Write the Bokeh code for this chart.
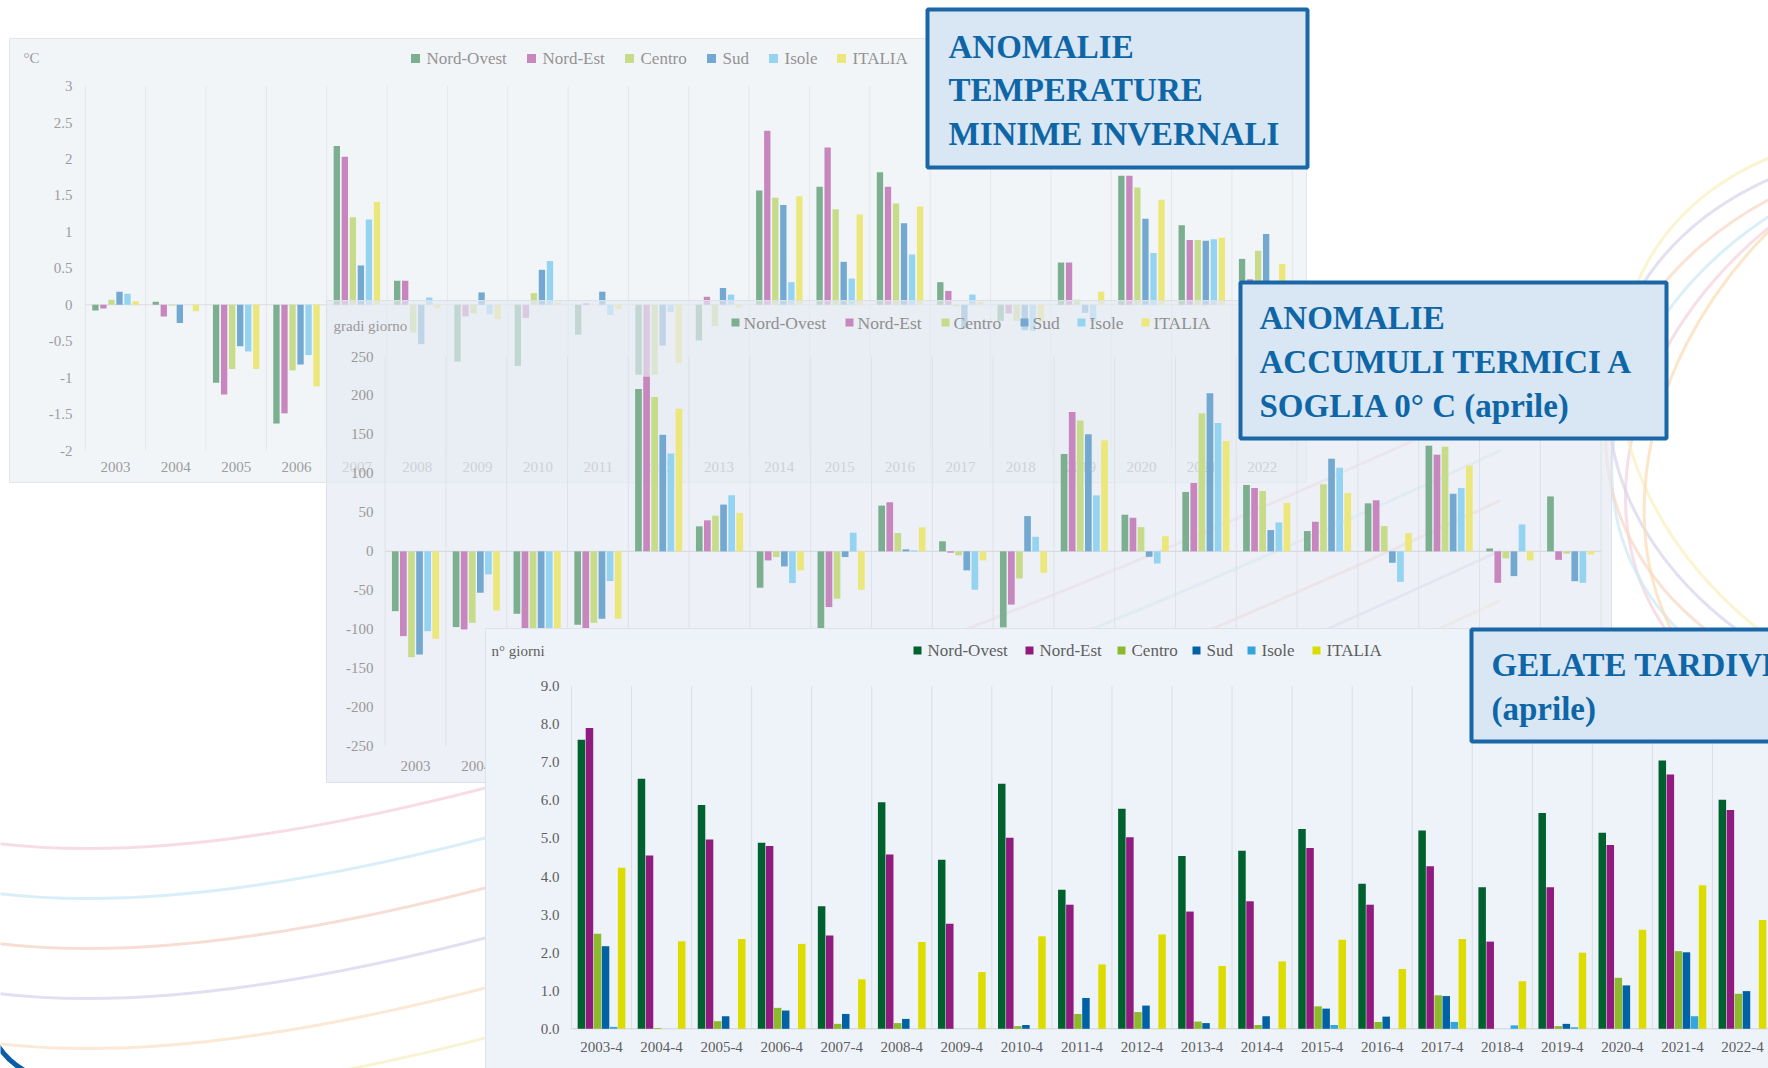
from bokeh.plotting import figure
from bokeh.models import Range1d, ColumnDataSource
from bokeh.transform import dodge
from bokeh.core.properties import value
from bokeh.embed import file_html
from bokeh.resources import INLINE

# ------------------------------------------------------------------ data
years = ["2003", "2004", "2005", "2006", "2007", "2008", "2009", "2010", "2011", "2012",
         "2013", "2014", "2015", "2016", "2017", "2018", "2019", "2020", "2021", "2022"]
regions = ["Nord-Ovest", "Nord-Est", "Centro", "Sud", "Isole", "ITALIA"]

# Anomalie temperature minime invernali (°C)
tmin_nord_ovest = [-0.08, 0.04, -1.07, -1.63, 2.18, 0.33, -0.78, -0.84, -0.41, -0.96,
                   -0.49, 1.57, 1.62, 1.82, 0.31, -0.22, 0.58, 1.77, 1.09, 0.63]
tmin_nord_est = [-0.05, -0.16, -1.23, -1.49, 2.03, 0.33, -0.16, -0.18, 0.02, -1.02,
                 0.11, 2.39, 2.16, 1.62, 0.19, -0.12, 0.58, 1.77, 0.89, 0.35]
tmin_centro = [0.07, -0.01, -0.88, -0.90, 1.20, -0.38, -0.12, 0.16, 0.00, -0.96,
               -0.29, 1.47, 1.31, 1.39, -0.02, -0.22, 0.07, 1.61, 0.89, 0.74]
tmin_sud = [0.18, -0.25, -0.57, -0.82, 0.54, -0.54, 0.17, 0.48, 0.18, -0.56,
            0.23, 1.37, 0.59, 1.12, -0.32, -0.35, -0.11, 1.18, 0.88, 0.97]
tmin_isole = [0.15, 0.00, -0.64, -0.69, 1.17, 0.10, -0.13, 0.60, -0.14, -0.10,
              0.14, 0.31, 0.36, 0.69, 0.14, -0.36, -0.23, 0.71, 0.90, 0.25]
tmin_italia = [0.05, -0.09, -0.88, -1.12, 1.41, -0.05, -0.20, 0.03, -0.06, -0.80,
               -0.04, 1.49, 1.24, 1.35, 0.04, -0.23, 0.18, 1.44, 0.92, 0.56]
tmin_ticks = [3, 2.5, 2, 1.5, 1, 0.5, 0, -0.5, -1, -1.5, -2]
tmin_tick_labels = ["3", "2.5", "2", "1.5", "1", "0.5", "0", "-0.5", "-1", "-1.5", "-2"]

# Anomalie accumuli termici a soglia 0 °C, aprile (gradi giorno)
gdd_nord_ovest = [-76.7, -97.2, -80.1, -94.2, 208.2, 32.1, -46.7, -112.0, 58.7, 12.9,
                  -97.5, 124.9, 47.0, 76.2, 85.2, 26.0, 61.6, 135.6, 3.7, 70.5]
gdd_nord_est = [-108.8, -100.2, -115.0, -98.5, 224.0, 39.8, -11.6, -71.5, 63.0, -1.7,
                -68.3, 178.9, 43.1, 87.7, 81.3, 38.0, 65.5, 124.0, -40.4, -10.9]
gdd_centro = [-135.8, -91.7, -110.0, -91.7, 197.9, 45.8, -7.3, -60.8, 23.6, -5.1,
              -34.9, 167.8, 31.1, 177.2, 77.4, 86.0, 32.4, 134.3, -9.1, -3.0]
gdd_sud = [-132.4, -53.1, -118.0, -86.5, 149.5, 60.0, -19.3, -7.3, 2.6, -24.4,
           45.3, 150.2, -7.0, 202.9, 27.3, 118.9, -14.7, 73.9, -31.8, -38.3]
gdd_isole = [-102.4, -29.6, -125.0, -38.1, 125.5, 72.0, -40.7, 24.0, 1.3, -49.3,
             18.7, 71.8, -15.6, 164.8, 37.1, 107.3, -39.1, 81.2, 34.5, -40.4]
gdd_italia = [-112.2, -75.8, -108.0, -86.5, 182.9, 49.3, -24.4, -49.3, 30.8, -11.6,
              -27.6, 142.5, 19.5, 141.6, 62.0, 74.8, 23.4, 109.9, -11.7, -4.0]
gdd_ticks = [250, 200, 150, 100, 50, 0, -50, -100, -150, -200, -250]
gdd_tick_labels = ["250", "200", "150", "100", "50", "0", "-50", "-100", "-150", "-200", "-250"]

# Gelate tardive, aprile (n° giorni)
gel_categories = ["2003-4", "2004-4", "2005-4", "2006-4", "2007-4", "2008-4", "2009-4",
                  "2010-4", "2011-4", "2012-4", "2013-4", "2014-4", "2015-4", "2016-4",
                  "2017-4", "2018-4", "2019-4", "2020-4", "2021-4", "2022-4"]
gel_nord_ovest = [7.59, 6.57, 5.88, 4.89, 3.22, 5.95, 4.44, 6.44, 3.65, 5.78,
                  4.54, 4.68, 5.25, 3.81, 5.21, 3.72, 5.67, 5.15, 7.05, 6.02]
gel_nord_est = [7.90, 4.55, 4.97, 4.80, 2.45, 4.58, 2.76, 5.02, 3.26, 5.03,
                3.08, 3.35, 4.75, 3.26, 4.27, 2.29, 3.72, 4.83, 6.68, 5.75]
gel_centro = [2.50, 0.02, 0.20, 0.55, 0.13, 0.15, 0.00, 0.07, 0.39, 0.44,
              0.19, 0.10, 0.59, 0.18, 0.88, 0.00, 0.07, 1.34, 2.04, 0.92]
gel_sud = [2.17, 0.00, 0.33, 0.48, 0.39, 0.26, 0.00, 0.10, 0.81, 0.61,
           0.15, 0.33, 0.53, 0.32, 0.86, 0.00, 0.13, 1.14, 2.01, 0.99]
gel_isole = [0.05, 0.00, 0.00, 0.00, 0.00, 0.00, 0.00, 0.00, 0.00, 0.00,
             0.00, 0.00, 0.10, 0.00, 0.18, 0.09, 0.04, 0.00, 0.33, 0.00]
gel_italia = [4.23, 2.30, 2.36, 2.23, 1.30, 2.28, 1.49, 2.43, 1.69, 2.48,
              1.65, 1.77, 2.34, 1.57, 2.36, 1.25, 2.00, 2.60, 3.77, 2.86]
gel_ticks = [9, 8, 7, 6, 5, 4, 3, 2, 1, 0]
gel_tick_labels = ["9.0", "8.0", "7.0", "6.0", "5.0", "4.0", "3.0", "2.0", "1.0", "0.0"]

title_1 = ["ANOMALIE", "TEMPERATURE", "MINIME INVERNALI"]
title_2 = ["ANOMALIE", "ACCUMULI TERMICI A", "SOGLIA 0° C (aprile)"]
title_3 = ["GELATE TARDIVE", "(aprile)"]

# ------------------------------------------------------------------ styles
FONT = value("Liberation Serif")
faded_colors = ["#7BAF8F", "#C886BE", "#C7DC8B", "#73A9D1", "#94D4F1", "#EBE77B"]
strong_colors = ["#00612E", "#901A7E", "#8DBA2C", "#0062A5", "#34A5DD", "#DCDC00"]

# page canvas in reference pixel coordinates
PX0, PX1, PY0, PY1 = 0, 1768, 0, 1068

p = figure(width=PX1 - PX0, height=PY1 - PY0,
           x_range=Range1d(PX0, PX1), y_range=Range1d(PY1, PY0),
           output_backend="svg", toolbar_location=None,
           x_axis_location=None, y_axis_location=None,
           min_border=0, outline_line_color=None,
           background_fill_color="white", border_fill_color="white")
p.grid.visible = False


def chart_ranges(left_px, cat_w, va, pa, vb, pb):
    xr = Range1d(start=(PX0 - left_px) / cat_w, end=(PX1 - left_px) / cat_w)
    k = (vb - va) / (pb - pa)
    yr = Range1d(start=va + (PY1 - pa) * k, end=va + (PY0 - pa) * k)
    return xr, yr


xr1, yr1 = chart_ranges(84.8, 60.35, 3, 85.7, -2, 450.0)
xr2, yr2 = chart_ranges(384.6, 60.8, 250, 356.0, -250, 745.7)
xr3, yr3 = chart_ranges(571.0, 60.05, 9, 685.7, 0, 1028.3)
p.extra_x_ranges = {"c1": xr1, "c2": xr2, "c3": xr3}
p.extra_y_ranges = {"c1": yr1, "c2": yr2, "c3": yr3}


def txt(x, y, t, size, color, align="left", baseline="middle", bold=False,
        xr="default", yr="default"):
    p.text(x=x, y=y, text=t, text_font=FONT, text_font_size=size, text_color=color,
           text_align=align, text_baseline=baseline,
           text_font_style="bold" if bold else "normal",
           x_range_name=xr, y_range_name=yr)


# ------------------------------------------------------------------ background decoration
deco_colors = ["#F6D3DE", "#CFEAF6", "#F5D6CB", "#DAD7EE", "#FAE3CC", "#F8F0C8"]
for k, c in enumerate(deco_colors):
    p.quadratic(x0=[-10], y0=[842 + 50 * k], x1=[1500], y1=[400 + 50 * k],
                cx=[420], cy=[900 + 50 * k], line_color=c, line_width=3, line_alpha=0.8)
ring_angles = [0.55, 0.3, 0.05, -0.2, -0.45, 0.8]
ring_colors = ["#F6D3DE", "#CFEAF6", "#F8D8C6", "#D9D5EE", "#F8F0C0", "#F9DDB8"]
for a, c in zip(ring_angles, ring_colors):
    p.ellipse(x=[1965], y=[430], width=[720], height=[560], angle=[a],
              fill_color=None, line_color=c, line_width=3, line_alpha=0.75)
p.quadratic(x0=[-6], y0=[1040], x1=[32], y1=[1074], cx=[8], cy=[1064],
            line_color="#0A5CA6", line_width=5)


# ------------------------------------------------------------------ chart drawer
def draw_chart(name, panel, panel_fill, panel_alpha, panel_line, series, colors,
               pitch, bar_w, grid_top, grid_bot, grid_color, zero_color,
               ticks, tick_labels, ytick_x, cats, xlab_y, tick_color, tick_size,
               unit_text, unit_x, unit_y, leg_x, leg_y, leg_sq, leg_off, leg_color, leg_size):
    left, top, right, bottom = panel
    p.quad(left=[left], right=[right], top=[top], bottom=[bottom],
           fill_color=panel_fill, fill_alpha=panel_alpha, line_color=panel_line, line_width=1)
    n = len(cats)
    bounds = list(range(n + 1))
    p.segment(x0=bounds, x1=bounds, y0=[grid_top] * (n + 1), y1=[grid_bot] * (n + 1),
              x_range_name=name, y_range_name=name, line_color=grid_color, line_width=1)
    p.segment(x0=[0], x1=[n], y0=[0], y1=[0], x_range_name=name, y_range_name=name,
              line_color=zero_color, line_width=1)
    data = {"idx": [i + 0.5 for i in range(n)]}
    for k, s in enumerate(series):
        data["s%d" % k] = s
    src = ColumnDataSource(data)
    for k, col in enumerate(colors):
        p.vbar(x=dodge("idx", (k - 2.5) * pitch), top="s%d" % k, bottom=0, width=bar_w,
               source=src, x_range_name=name, y_range_name=name,
               fill_color=col, line_color=None)
    txt([ytick_x] * len(ticks), ticks, tick_labels, tick_size, tick_color,
        align="right", yr=name)
    txt(data["idx"], [xlab_y] * n, cats, tick_size, tick_color, align="center", xr=name)
    txt([unit_x], [unit_y], [unit_text], tick_size, tick_color)
    p.rect(x=leg_x, y=[leg_y] * len(leg_x), width=leg_sq, height=leg_sq,
           fill_color=colors, line_color=None)
    txt([x + leg_off for x in leg_x], [leg_y] * len(leg_x), regions, leg_size, leg_color)


def title_box(left, top, right, bottom, lines, text_x, centers):
    p.quad(left=[left], right=[right], top=[top], bottom=[bottom],
           fill_color="#D8E7F3", line_color="#1A67A7", line_width=4)
    txt([text_x] * len(lines), centers, lines, "33px", "#0E66A7",
        baseline="middle", bold=True)


# chart 1: temperature minime invernali
draw_chart("c1", (9, 38, 1306, 482), "#F2F5F8", 1.0, "#E2E6EB",
           [tmin_nord_ovest, tmin_nord_est, tmin_centro, tmin_sud, tmin_isole, tmin_italia],
           faded_colors, 0.133, 0.105, 3, -2, "#E3E7EB", "#D8DCE1",
           tmin_ticks, tmin_tick_labels, 72, years, 466.7, "#9C9C9C", "15px",
           "°C", 23, 57, [415, 531, 629, 711, 773, 841], 58, 9, 11, "#939393", "17px")
title_box(927, 9, 1307, 167, title_1, 948, [46.0, 89.5, 133.5])

# chart 2: accumuli termici
draw_chart("c2", (326, 300, 1611, 782), "#E5E9F1", 0.68, "#DCE1E7",
           [gdd_nord_ovest, gdd_nord_est, gdd_centro, gdd_sud, gdd_isole, gdd_italia],
           faded_colors, 0.133, 0.11, 250, -250, "#DDE2E8", "#D3D8DE",
           gdd_ticks, gdd_tick_labels, 373, years, 765, "#999999", "15px",
           "gradi giorno", 333, 325, [735, 849, 945, 1024, 1081, 1145], 322, 8, 8, "#8F8F8F", "17.5px")
title_box(1240, 282, 1666, 438, title_2, 1259, [317.5, 361.5, 405.0])

# chart 3: gelate tardive
draw_chart("c3", (485, 628, 1800, 1090), "#EEF3F9", 1.0, "#DCE2E9",
           [gel_nord_ovest, gel_nord_est, gel_centro, gel_sud, gel_isole, gel_italia],
           strong_colors, 0.134, 0.125, 9, 0, "#DADFE5", "#CDD2D8",
           gel_ticks, gel_tick_labels, 559, gel_categories, 1046, "#5E5E5E", "15px",
           "n° giorni", 491, 650, [917, 1029, 1121, 1196, 1251, 1316], 650, 8, 10, "#5E5E5E", "17px")
title_box(1471, 629, 1800, 741, title_3, 1491, [664.0, 708.5])

open("out.html", "w", encoding="utf-8").write(file_html(p, INLINE))
